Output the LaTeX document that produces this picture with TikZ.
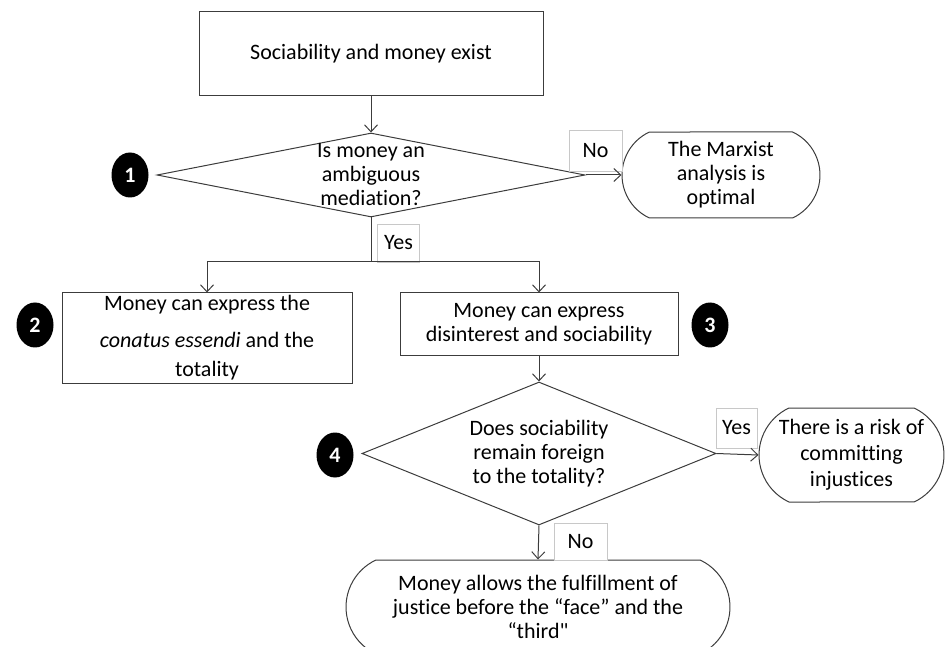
\documentclass[tikz,border=0pt]{standalone}
\usepackage{fontspec}
\setmainfont{Carlito}[Ligatures={TeXOff,CommonOff}]
\usetikzlibrary{arrows.meta,shapes.geometric,shapes.misc}
\definecolor{fcLine}{RGB}{60,60,60}
\definecolor{fcTag} {RGB}{200,200,200}

\begin{document}
\begin{tikzpicture}[x=1pt,y=-1pt,
  every node/.style={font=\fontsize{22pt}{24pt}\selectfont,align=center},
  >={Straight Barb[length=7pt,width=13pt]},
  box/.style={draw=fcLine,line width=1pt,inner sep=0pt},
  dec/.style={diamond,draw=fcLine,line width=1pt,inner sep=0pt},
  term/.style={rounded rectangle,rounded rectangle arc length=130,
               draw=fcLine,line width=1pt,inner sep=0pt},
  tag/.style={draw=fcTag,fill=white,line width=0.8pt,inner sep=0pt},
  num/.style={ellipse,fill=black,text=white,inner sep=0pt,
              minimum width=37pt,minimum height=45pt,
              font=\fontsize{22pt}{24pt}\selectfont\bfseries},
  link/.style={draw=fcLine,line width=1pt}
]
\useasboundingbox (0,0) rectangle (946,647);

\node[box,minimum width=344pt,minimum height=84pt] (S0) at (371,54) {Sociability and money exist};
\node[dec,minimum width=428pt,minimum height=84pt,
      label={[align=center]center:Is money an\\ambiguous\\mediation?}] (Q1) at (371,175) {};
\node[num] (N1) at (130,175) {1};
\node[term,minimum width=198pt,minimum height=86pt] (T1) at (721,175) {The Marxist\\analysis is\\optimal};
\node[tag,minimum width=53pt,minimum height=41pt] (L1) at (595.5,150.5) {No};
\node[tag,minimum width=42pt,minimum height=38pt] (L2) at (398.5,243) {Yes};
\coordinate (C0) at (371,262);

\node[box,minimum width=290pt,minimum height=90pt] (B2) at (207,338)
  {Money can express the\\[13pt]\textit{conatus essendi} and the\\[5pt]totality};
\node[num] (N2) at (35,325) {2};
\node[box,minimum width=278pt,minimum height=63pt] (B3) at (539,324.5)
  {Money can express\\disinterest and sociability};
\node[num] (N3) at (710,325) {3};

\node[dec,minimum width=354pt,minimum height=143pt,
      label={[align=center]center:Does sociability\\remain foreign\\to the totality?}] (Q2) at (539,453.5) {};
\node[num] (N4) at (335,455) {4};
\node[term,minimum width=185pt,minimum height=94pt] (T2) at (851.5,455)
  {There is a risk of\\[2pt]committing\\[2pt]injustices};
\node[tag,minimum width=41pt,minimum height=40pt] (L3) at (736.5,428) {Yes};
\node[term,minimum width=384pt,minimum height=94pt] (T3) at (538,607)
  {Money allows the fulfillment of\\justice before the “face” and the\\“third"};
\node[tag,minimum width=53pt,minimum height=37pt] (L4) at (580.5,541.5) {No};

\draw[link,->] (S0) -- (Q1);
\draw[link,->] (Q1.east) -- (T1.west);
\draw[link] (Q1.south) -- (C0);
\draw[link,->] (C0) -| (B2.north);
\draw[link,->] (C0) -| (B3.north);
\draw[link,->] (B3) -- (Q2);
\draw[link,->] (Q2.east) -- (T2.west);
\draw[link,->] (Q2.south) -- (T3.north);
\end{tikzpicture}
\end{document}
